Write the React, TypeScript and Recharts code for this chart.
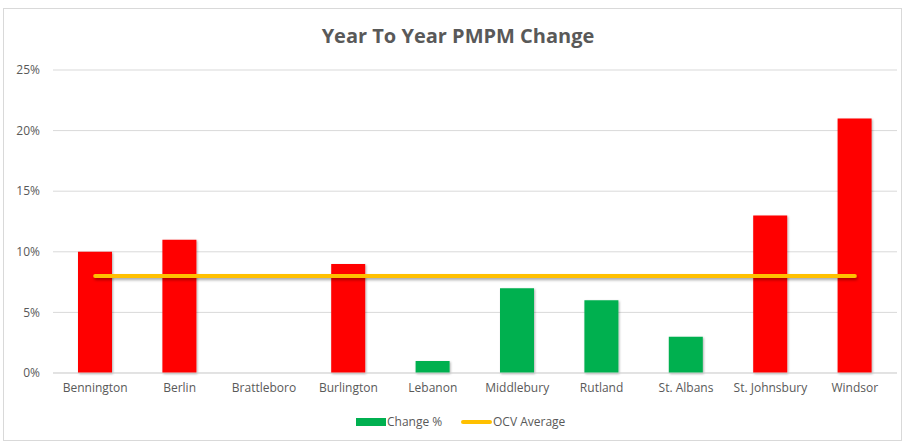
import React from "react";
import { ComposedChart, Bar, Line, XAxis, YAxis, CartesianGrid, Cell } from "recharts";

const categories = ["Bennington", "Berlin", "Brattleboro", "Burlington", "Lebanon", "Middlebury", "Rutland", "St. Albans", "St. Johnsbury", "Windsor"];
const changePct = [10, 11, 0, 9, 1, 7, 6, 3, 13, 21];
const ocvAverage = [8, 8, 8, 8, 8, 8, 8, 8, 8, 8];
const yTicks = [0, 5, 10, 15, 20, 25];

const data = categories.map((name, i) => ({ name, change: changePct[i], avg: ocvAverage[i] }));

const FONT = "'Open Sans', 'DejaVu Sans', sans-serif";
const TEXT = "#595959";

export default function App() {
  return (
    <div style={{ position: "absolute", left: 0, top: 0, width: 904, height: 443, background: "#fff", fontFamily: FONT }}>
      <div style={{ position: "absolute", left: 3, top: 8, width: 899, height: 433, border: "1px solid #D9D9D9", boxSizing: "border-box" }} />
      <div style={{ position: "absolute", left: 0, top: 22, width: 916, textAlign: "center", fontSize: 20, fontWeight: 700, color: TEXT }}>
        Year To Year PMPM Change
      </div>
      <ComposedChart width={904} height={443} data={data} margin={{ top: 70, right: 7, left: 0, bottom: 40 }} style={{ position: "absolute", left: 0, top: 0 }}>
        <defs>
          <filter id="sh" filterUnits="userSpaceOnUse" x="0" y="0" width="904" height="443">
            <feDropShadow dx="1" dy="2" stdDeviation="1.5" floodColor="#000" floodOpacity="0.35" />
          </filter>
          <filter id="shb" filterUnits="userSpaceOnUse" x="0" y="0" width="904" height="443">
            <feDropShadow dx="1" dy="1" stdDeviation="1.2" floodColor="#000" floodOpacity="0.3" />
          </filter>
        </defs>
        <CartesianGrid vertical={false} stroke="#D9D9D9" />
        <XAxis dataKey="name" interval={0} tickLine={false} axisLine={{ stroke: "#D9D9D9" }} tick={{ fill: TEXT, fontSize: 12, fontFamily: FONT }} tickMargin={4} height={30} />
        <YAxis domain={[0, 25]} ticks={yTicks} tickFormatter={(v) => `${v}%`} tickLine={false} axisLine={false} width={53} tickMargin={7} tick={{ fill: TEXT, fontSize: 12, fontFamily: FONT }} />
        <Bar dataKey="change" barSize={34} isAnimationActive={false} filter="url(#shb)">
          {data.map((d, i) => (
            <Cell key={i} fill={d.change > d.avg ? "#FF0000" : "#00B050"} />
          ))}
        </Bar>
        <Line dataKey="avg" stroke="#FFC000" strokeWidth={4} strokeLinecap="round" dot={false} activeDot={false} isAnimationActive={false} filter="url(#sh)" />
      </ComposedChart>
      <div style={{ position: "absolute", left: 0, top: 413, width: 904, height: 18, fontSize: 12, color: TEXT }}>
        <div style={{ position: "absolute", left: 356, top: 5, width: 30, height: 8, background: "#00B050" }} />
        <div style={{ position: "absolute", left: 387, top: 0, lineHeight: "18px" }}>Change %</div>
        <div style={{ position: "absolute", left: 461, top: 7, width: 31, height: 4, borderRadius: 2, background: "#FFC000" }} />
        <div style={{ position: "absolute", left: 493, top: 0, lineHeight: "18px" }}>OCV Average</div>
      </div>
    </div>
  );
}
